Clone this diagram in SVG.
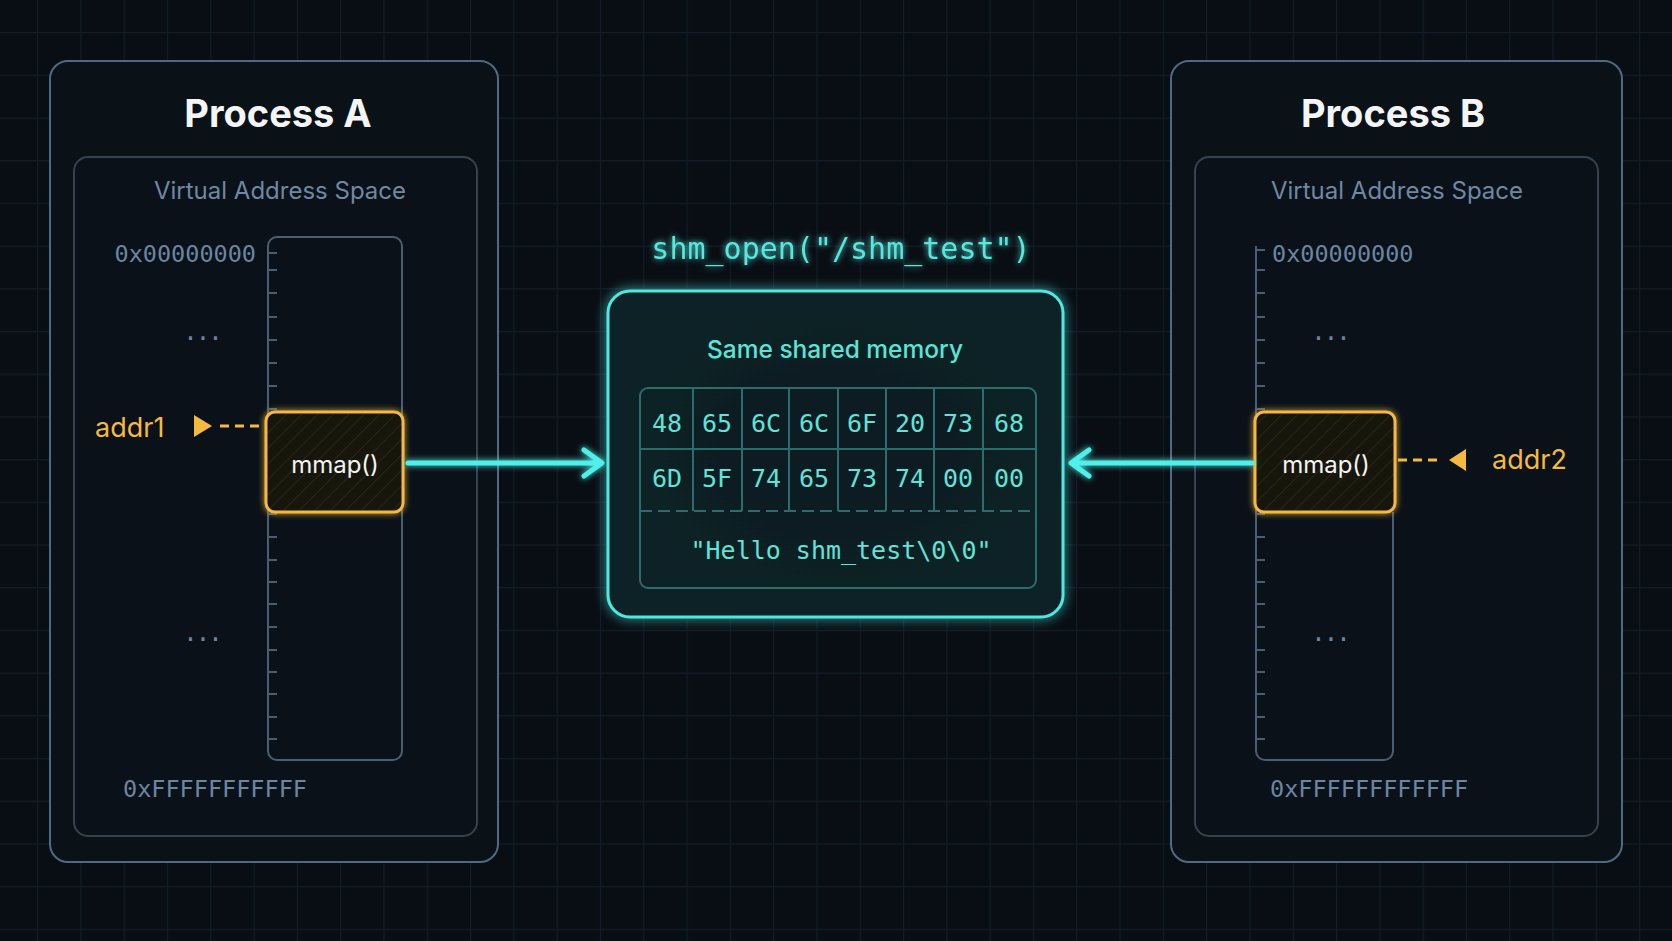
<svg xmlns="http://www.w3.org/2000/svg" width="1672" height="941" viewBox="0 0 1672 941">
<defs>
  <pattern id="grid" width="43.3" height="42.7" patternUnits="userSpaceOnUse" x="37" y="32">
    <path d="M0 0.5 H43.3 M0.5 0 V42.7" stroke="#121d28" stroke-width="1.3" fill="none"/>
  </pattern>
  <pattern id="hatch" width="11" height="11" patternUnits="userSpaceOnUse" patternTransform="rotate(45)">
    <line x1="0" y1="0" x2="0" y2="11" stroke="#f5b942" stroke-opacity="0.16" stroke-width="1.2"/>
  </pattern>
  <radialGradient id="memfill" cx="50%" cy="50%" r="65%">
    <stop offset="0" stop-color="#0a1d22"/>
    <stop offset="1" stop-color="#0b2226"/>
  </radialGradient>
  <filter id="glowC" filterUnits="userSpaceOnUse" x="0" y="0" width="1672" height="941">
    <feGaussianBlur stdDeviation="6" result="b"/>
    <feMerge><feMergeNode in="b"/><feMergeNode in="SourceGraphic"/></feMerge>
  </filter>
  <filter id="glowS" filterUnits="userSpaceOnUse" x="0" y="0" width="1672" height="941">
    <feGaussianBlur stdDeviation="3" result="b"/>
    <feMerge><feMergeNode in="b"/><feMergeNode in="SourceGraphic"/></feMerge>
  </filter>
  <style>
    .outer{fill:#0a1117;stroke:#4f6a85;stroke-width:2}
    .inner{fill:#0a1118;stroke:#36434f;stroke-width:2}
    .col{fill:none;stroke:#4a5e73;stroke-width:2}
    .tick{stroke:#4a5e73;stroke-width:2}
    .title{font-family:Inter,"Liberation Sans",sans-serif;font-weight:700;font-size:38px;fill:#f3f5f7;text-anchor:middle}
    .vas{font-family:Inter,"Liberation Sans",sans-serif;font-size:24px;fill:#6f88a3;text-anchor:middle}
    .addr{font-family:"DejaVu Sans Mono","Liberation Mono",monospace;font-size:23.5px;fill:#6b86a3}
    .dots{font-family:"DejaVu Sans Mono","Liberation Mono",monospace;font-size:24px;fill:#6b86a3;text-anchor:middle;letter-spacing:-2px}
    .mmapbox{fill:#13130f;stroke:#f5b942;stroke-width:3}
    .mmaptxt{font-family:Inter,"Liberation Sans",sans-serif;font-size:24px;fill:#f4f4f4;text-anchor:middle}
    .ptr{font-family:Inter,"Liberation Sans",sans-serif;font-size:27px;fill:#f5b942}
    .cy{fill:#58e6dd}
    .mono{font-family:"DejaVu Sans Mono","Liberation Mono",monospace}
    .hex{font-family:"DejaVu Sans Mono","Liberation Mono",monospace;font-size:25px;fill:#5fe3da;text-anchor:middle}
    .cell{stroke:#2b6d6c;stroke-width:2;fill:none}
    .arrow{stroke:#4ff0ea;stroke-width:5;fill:none;stroke-linecap:round;stroke-linejoin:round}
    .dash{stroke:#f5b942;stroke-width:3;stroke-dasharray:9 6;fill:none}
  </style>
</defs>

<rect x="0" y="0" width="1672" height="941" fill="#080e14"/>
<rect x="0" y="0" width="1672" height="941" fill="url(#grid)"/>

<!-- Process A -->
<g id="processA">
  <rect class="outer" x="50" y="61" width="448" height="801" rx="18"/>
  <text class="title" x="278" y="127">Process A</text>
  <rect class="inner" x="74" y="157" width="403" height="679" rx="14"/>
  <text class="vas" x="280" y="199">Virtual Address Space</text>
  <rect class="col" x="268" y="237" width="134" height="523" rx="9"/>
  <path class="tick" d="M268 253h9M268 270h9M268 293h9M268 317h9M268 340h9M268 363h9M268 386h9M268 409h9M268 514h9M268 537h9M268 560h9M268 582h9M268 604h9M268 627h9M268 650h9M268 672h9M268 694h9M268 717h9M268 739h9"/>
  <text class="addr" x="256" y="262" text-anchor="end">0x00000000</text>
  <text class="dots" x="202" y="340">...</text>
  <text class="dots" x="202" y="641">...</text>
  <text class="addr" x="123" y="797">0xFFFFFFFFFFF</text>
</g>

<g id="mmapA">
  <rect class="mmapbox" x="266" y="412" width="137" height="100" rx="9" filter="url(#glowS)"/>
  <rect x="267.5" y="413.5" width="134" height="97" rx="8" fill="url(#hatch)"/>
  <text class="mmaptxt" x="335" y="473">mmap()</text>
</g>

<g id="addr1">
  <text class="ptr" x="95" y="437">addr1</text>
  <polygon points="194,415 212,426 194,437" fill="#f5b942"/>
</g>

<!-- Shared memory -->
<g id="shm">
  <text class="mono cy" x="841" y="259" font-size="30" text-anchor="middle" filter="url(#glowS)">shm_open("/shm_test")</text>
  <rect x="608" y="291" width="455" height="326" rx="22" fill="url(#memfill)" stroke="#4de8df" stroke-width="3" filter="url(#glowC)"/>
  <text x="835" y="358" font-family="Inter,'Liberation Sans',sans-serif" font-size="24.5" font-weight="500" fill="#5ce2d8" text-anchor="middle">Same shared memory</text>
  <rect class="cell" x="640" y="388" width="396" height="200" rx="8"/>
  <path class="cell" d="M640 449H1036M693 388V511M742 388V511M789 388V511M838 388V511M886 388V511M934 388V511M983 388V511"/>
  <path class="cell" d="M640 511H1036" stroke-dasharray="12 6"/>
  <g class="hex">
    <text x="667" y="432">48</text><text x="717" y="432">65</text><text x="766" y="432">6C</text><text x="814" y="432">6C</text>
    <text x="862" y="432">6F</text><text x="910" y="432">20</text><text x="958" y="432">73</text><text x="1009" y="432">68</text>
    <text x="667" y="487">6D</text><text x="717" y="487">5F</text><text x="766" y="487">74</text><text x="814" y="487">65</text>
    <text x="862" y="487">73</text><text x="910" y="487">74</text><text x="958" y="487">00</text><text x="1009" y="487">00</text>
  </g>
  <text class="hex" x="841" y="559" font-size="24">"Hello shm_test\0\0"</text>
</g>

<!-- Process B -->
<g id="processB">
  <rect class="outer" x="1171" y="61" width="451" height="801" rx="18"/>
  <text class="title" x="1393" y="127">Process B</text>
  <rect class="inner" x="1195" y="157" width="403" height="679" rx="14"/>
  <text class="vas" x="1397" y="199">Virtual Address Space</text>
  <path class="col" d="M1256 246V751a9 9 0 0 0 9 9H1384a9 9 0 0 0 9-9V512"/>
  <path class="tick" d="M1256 250h9M1256 270h9M1256 293h9M1256 317h9M1256 340h9M1256 363h9M1256 386h9M1256 409h9M1256 514h9M1256 537h9M1256 560h9M1256 582h9M1256 604h9M1256 627h9M1256 650h9M1256 672h9M1256 694h9M1256 717h9M1256 739h9"/>
  <text class="addr" x="1272" y="262">0x00000000</text>
  <text class="dots" x="1330" y="340">...</text>
  <text class="dots" x="1330" y="641">...</text>
  <text class="addr" x="1270" y="797">0xFFFFFFFFFFFF</text>
</g>

<g id="mmapB">
  <rect class="mmapbox" x="1255" y="412" width="140" height="100" rx="9" filter="url(#glowS)"/>
  <rect x="1256.5" y="413.5" width="137" height="97" rx="8" fill="url(#hatch)"/>
  <text class="mmaptxt" x="1326" y="473">mmap()</text>
</g>

<g id="addr2">
  <text class="ptr" x="1492" y="469">addr2</text>
  <polygon points="1466,449 1449,460 1466,471" fill="#f5b942"/>
</g>

<!-- Connectors -->
<g id="connectors">
  <line class="dash" x1="220" y1="426" x2="264" y2="426"/>
  <line class="dash" x1="1398" y1="460" x2="1442" y2="460"/>
  <g filter="url(#glowS)">
    <path class="arrow" d="M408 463H600M584 450L602 463L584 476"/>
    <path class="arrow" d="M1252 463H1072M1089 450L1071 463L1089 476"/>
  </g>
</g>
</svg>
